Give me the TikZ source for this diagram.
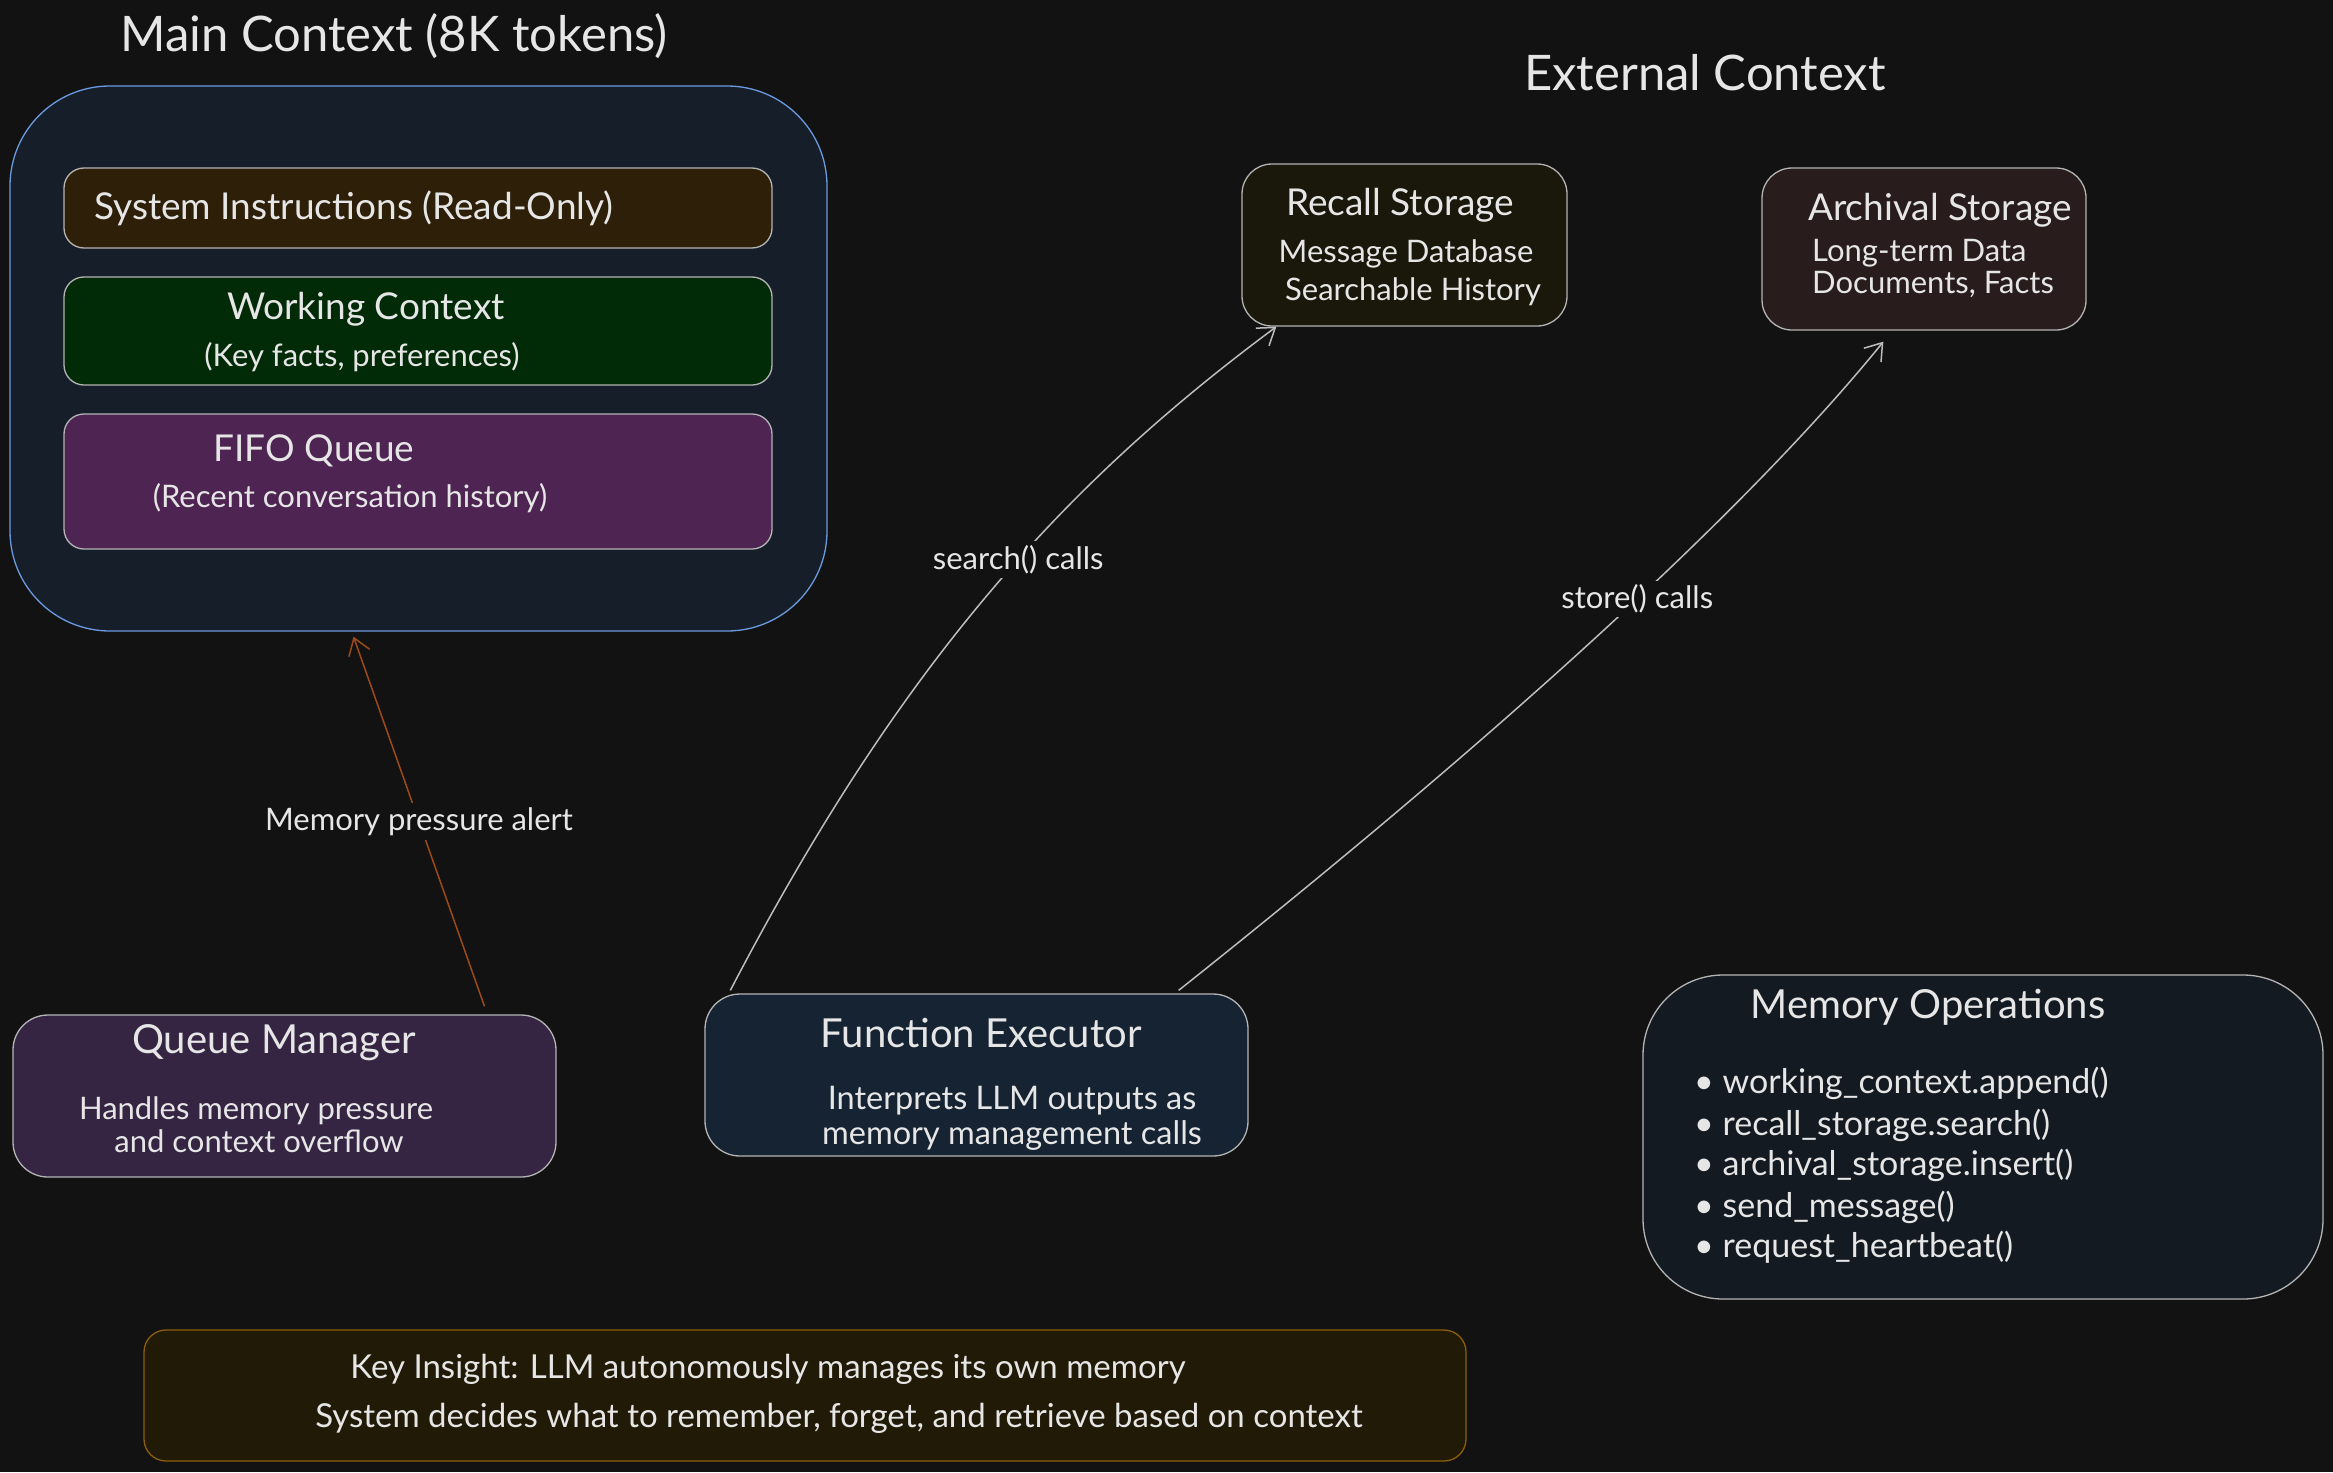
\documentclass[tikz,border=0pt]{standalone}
\usepackage{fontspec}
\setmainfont{Lato}
\usetikzlibrary{arrows.meta}
\definecolor{bg}{HTML}{121212}
\definecolor{txt}{HTML}{E6E6E6}
\definecolor{edge}{HTML}{B4B4B4}
\definecolor{mainfill}{HTML}{161E29}
\definecolor{mainedge}{HTML}{6A9AE0}
\definecolor{sysfill}{HTML}{2D1F08}
\definecolor{workfill}{HTML}{012A07}
\definecolor{fifofill}{HTML}{4E2452}
\definecolor{recfill}{HTML}{19180A}
\definecolor{arcfill}{HTML}{281C1C}
\definecolor{qmfill}{HTML}{352543}
\definecolor{fefill}{HTML}{162333}
\definecolor{opsfill}{HTML}{141A21}
\definecolor{keyfill}{HTML}{211A06}
\definecolor{keyedge}{HTML}{8B5E0A}
\definecolor{arrowgray}{HTML}{BDBDBD}
\definecolor{arroworange}{HTML}{9C4A1A}
\begin{document}
\begin{tikzpicture}[x=1pt,y=-1pt,
  box/.style={draw=edge, line width=1.3pt, rounded corners=20pt, inner sep=0pt},
  bigtitle/.style={font=\fontsize{49}{56}\selectfont, text=txt, inner sep=0pt},
  btitle/.style={font=\fontsize{37}{44}\selectfont, text=txt, inner sep=0pt},
  ctitle/.style={font=\fontsize{40}{48}\selectfont, text=txt, inner sep=0pt},
  sub/.style={font=\fontsize{31}{36}\selectfont, text=txt, inner sep=0pt},
  fesub/.style={font=\fontsize{32.5}{38}\selectfont, text=txt, inner sep=0pt},
  opsitem/.style={font=\fontsize{34}{40}\selectfont, text=txt, inner sep=0pt, anchor=west},
  keytxt/.style={font=\fontsize{33}{38}\selectfont, text=txt, inner sep=0pt},
  lbl/.style={font=\fontsize{31}{36}\selectfont, text=txt, fill=bg, inner sep=4pt},
  conn/.style={draw=arrowgray, line width=1.5pt, -{Straight Barb[length=16pt,width=22pt,line width=1.5pt]}},
]
\fill[bg] (0,0) rectangle (2333,1472);
\useasboundingbox (0,0) rectangle (2333,1472);

% Main context
\node[bigtitle] (maintitle) at (394,36) {Main Context (8K tokens)};
\node[box, draw=mainedge, fill=mainfill, rounded corners=100pt, minimum width=817pt, minimum height=545pt] (main) at (418.5,358.5) {};
\node[box, fill=sysfill, minimum width=708pt, minimum height=80pt] (sys) at (418,208) {};
\node[btitle, anchor=west] (systxt) at (94,208) {System Instructions (Read-Only)};
\node[box, fill=workfill, minimum width=708pt, minimum height=108pt] (work) at (418,331) {};
\node[btitle] (worktxt) at (366,309) {Working Context};
\node[sub] (worksub) at (362,357) {(Key facts, preferences)};
\node[box, fill=fifofill, minimum width=708pt, minimum height=135pt] (fifo) at (418,481.5) {};
\node[btitle] (fifotxt) at (314,451) {FIFO Queue};
\node[sub] (fifosub) at (350,498) {(Recent conversation history)};

% External context
\node[bigtitle] (exttitle) at (1705,73) {External Context};
\node[box, fill=recfill, rounded corners=30pt, minimum width=325pt, minimum height=162pt] (rec) at (1404.5,245) {};
\node[btitle] (rectxt) at (1400,205) {Recall Storage};
\node[sub] (recsub1) at (1406,254) {Message Database};
\node[sub] (recsub2) at (1413,292) {Searchable History};
\node[box, fill=arcfill, rounded corners=30pt, minimum width=324pt, minimum height=162pt] (arc) at (1924,249) {};
\node[btitle] (arctxt) at (1940,210) {Archival Storage};
\node[sub, anchor=west] (arcsub1) at (1812,253) {Long-term Data};
\node[sub, anchor=west] (arcsub2) at (1812,284) {Documents, Facts};

% Queue manager
\node[box, fill=qmfill, rounded corners=35pt, minimum width=543pt, minimum height=162pt] (qm) at (284.5,1096) {};
\node[ctitle] (qmtxt) at (274,1043) {Queue Manager};
\node[sub] (qmsub1) at (256,1111) {Handles memory pressure};
\node[sub] (qmsub2) at (259,1141) {and context overflow};

% Function executor
\node[box, fill=fefill, rounded corners=35pt, minimum width=543pt, minimum height=162pt] (fe) at (976.5,1075) {};
\node[ctitle] (fetxt) at (981,1033) {Function Executor};
\node[fesub] (fesub1) at (1012,1101) {Interprets LLM outputs as};
\node[fesub] (fesub2) at (1012,1135) {memory management calls};

% Memory operations
\node[box, fill=opsfill, rounded corners=80pt, minimum width=680pt, minimum height=324pt] (ops) at (1983,1137) {};
\node[ctitle] (opstxt) at (1928,1007) {Memory Operations};
\node[opsitem] (op1) at (1694,1083) {• working\_context.append()};
\node[opsitem] (op2) at (1694,1125) {• recall\_storage.search()};
\node[opsitem] (op3) at (1694,1165) {• archival\_storage.insert()};
\node[opsitem] (op4) at (1694,1207) {• send\_message()};
\node[opsitem] (op5) at (1694,1247) {• request\_heartbeat()};

% Key insight
\node[box, draw=keyedge, fill=keyfill, rounded corners=22pt, minimum width=1322pt, minimum height=131pt] (key) at (805,1395.5) {};
\node[keytxt] (key1) at (768,1369) {Key Insight: LLM autonomously manages its own memory};
\node[keytxt] (key2) at (839,1418) {System decides what to remember, forget, and retrieve based on context};

% Connectors
\draw[conn, draw=arroworange]
  ([xshift=200pt,yshift=8pt]qm.north) -- ([xshift=-65pt,yshift=-5pt]main.south)
  node[lbl, pos=0.5] (lblmem) {Memory pressure alert};
\draw[conn] ([xshift=26pt,yshift=3pt]fe.north west) .. controls (905,655) and (1070,480) .. ([xshift=35pt]rec.south west)
  node[lbl, pos=0.55] (lblsearch) {search() calls};
\draw[conn] ([xshift=-70pt,yshift=3pt]fe.north east) .. controls (1530,711) and (1760,494) .. ([xshift=122pt,yshift=-11pt]arc.south west)
  node[lbl, pos=0.53] (lblstore) {store() calls};
\end{tikzpicture}
\end{document}
